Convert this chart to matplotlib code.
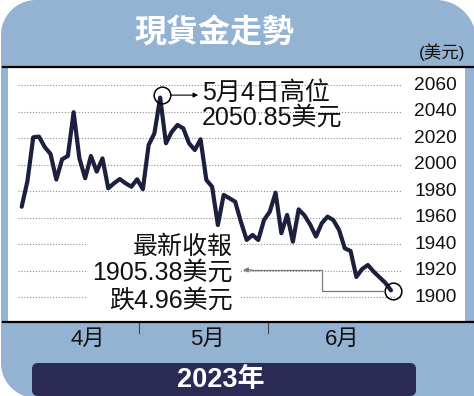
import numpy as np
import matplotlib
matplotlib.use("Agg")
import matplotlib.pyplot as plt
from matplotlib.transforms import Affine2D, offset_copy
from matplotlib.patches import FancyBboxPatch, Polygon, Rectangle
from matplotlib.lines import Line2D

# ---------------- data ----------------
prices = [1968.5, 1988.0, 2020.9, 2021.4, 2013.5, 2008.3, 1989.0, 2004.3, 2006.8, 2039.8,
          2005.0, 1990.0, 2006.8, 1995.0, 2005.0, 1982.4, 1986.2, 1989.4, 1986.2, 1983.6,
          1989.2, 1981.7, 2015.1, 2023.9, 2050.85, 2016.4, 2025.0, 2030.2, 2027.7, 2016.4,
          2011.3, 2019.4, 1988.7, 1983.6, 1954.7, 1977.4, 1974.9, 1972.3, 1957.0, 1943.4,
          1947.2, 1943.4, 1958.5, 1964.8, 1979.1, 1948.5, 1962.3, 1942.1, 1966.5, 1962.0,
          1955.0, 1946.0, 1956.0, 1961.0, 1958.5, 1951.0, 1937.1, 1935.1, 1915.5, 1921.5,
          1924.5, 1919.5, 1915.3, 1911.2, 1905.38]
yticks = [1900, 1920, 1940, 1960, 1980, 2000, 2020, 2040, 2060]
month_labels = ["4月", "5月", "6月"]
month_label_pos = [11.5, 32.1, 55.5]      # trading-day index of label centre
month_boundaries = [20.33, 42.68]          # trading-day index of month change

title = "現貨金走勢"
unit = "(美元)"
peak_txt = ["5月4日高位", "2050.85美元"]
last_txt = ["最新收報", "1905.38美元", "跌4.96美元"]
year_txt = "2023年"

# ---------------- style ----------------
W, H = 474, 396
BLUE = "#94b3d3"
NAVY = "#1c1f3e"
BANNER = "#2b2a55"
FAM = ["Liberation Sans", "Noto Sans CJK TC"]

fig = plt.figure(figsize=(W / 100, H / 100), dpi=100)
fig.patch.set_facecolor("white")
T = Affine2D().scale(1 / W, -1 / H).translate(0, 1) + fig.transFigure  # pixel coords, y down

# rounded blue panel
def arc(cx, cy, r, a0, a1, n=30):
    a = np.radians(np.linspace(a0, a1, n))
    return np.column_stack([cx + r * np.cos(a), cy + r * np.sin(a)])

r1, r2, r3 = 35, 40, 35
L, R, TOP, BOT = 1, 476, 0, 398
pts = np.vstack([
    arc(L + r1, TOP + r1, r1, 180, 270),        # top-left (y down)
    arc(R - r2, TOP + r2, r2, 270, 360),        # top-right
    [[R, BOT]],                                 # bottom-right square
    arc(L + r3, BOT - r3, r3, 90, 180),         # bottom-left
])
fig.add_artist(Polygon(pts, closed=True, transform=T, facecolor=BLUE,
                       edgecolor="none", zorder=-5))

# bottom banner
fig.add_artist(FancyBboxPatch((32, 363), 384, 33, boxstyle="round,pad=0,rounding_size=6",
                              transform=T, facecolor=BANNER, edgecolor="none", zorder=-4))

# ---------------- data axes ----------------
ax = fig.add_axes([8 / W, 1 - 322 / H, 457 / W, 254 / H])
ax.set_facecolor("white")
ax.set_xlim(-2.374, 76.83)
ax.set_ylim(1881.5, 2073.2)
for s in ax.spines.values():
    s.set_visible(False)
ax.set_xticks([])
ax.set_yticks([])

x = np.arange(len(prices))
ax.hlines(yticks, -0.64, 65.9, colors="#8c8c8c", linestyles=(0, (1, 1.6)),
          linewidth=0.8, zorder=1)

ytr = ax.get_yaxis_transform()
for v in yticks:
    ax.text(449 / 457, v, str(v), transform=ytr, ha="right", va="center",
            fontsize=13.8, family=FAM, color="#111111")

# white box behind latest-close text
ax.add_patch(Rectangle((88, 231), 152, 86, transform=T, facecolor="white",
                       edgecolor="none", zorder=2, clip_on=False))

ax.plot(x, prices, color=NAVY, lw=3.0, solid_joinstyle="round", solid_capstyle="round", zorder=3)

# peak marker + arrow
pk = int(np.argmax(prices))
ax.plot([pk], [prices[pk]], marker="o", ms=12, mfc="none", mec="black", mew=1.1,
        transform=offset_copy(ax.transData, fig=fig, x=2, y=2.5, units="dots"), zorder=4)
ax.annotate("", xy=(pk, prices[pk]),
            xycoords=offset_copy(ax.transData, fig=fig, x=38, y=2.5, units="dots"),
            xytext=(pk, prices[pk]),
            textcoords=offset_copy(ax.transData, fig=fig, x=11, y=2.5, units="dots"),
            arrowprops=dict(arrowstyle="-|>", lw=0.8, color="black", mutation_scale=7,
                            shrinkA=0, shrinkB=0), zorder=4)

# last marker + elbow arrow
li = len(prices) - 1
ax.plot([li], [prices[li]], marker="o", ms=12, mfc="none", mec="black", mew=1.1,
        transform=offset_copy(ax.transData, fig=fig, x=2, y=-0.6, units="dots"), zorder=4)
lx, ly = ax.transData.transform((li, prices[li]))
GRAY = "#7a7a7a"
ax.add_line(Line2D([lx - 7, lx - 69, lx - 69, lx - 140], [ly - 0.6, ly - 0.6, ly + 20.4, ly + 20.4],
                   transform=None, color=GRAY, lw=0.9, zorder=4, clip_on=False))
ax.annotate("", xy=(lx - 148, ly + 20.4), xycoords="figure pixels",
            xytext=(lx - 139, ly + 20.4), textcoords="figure pixels",
            arrowprops=dict(arrowstyle="-|>", lw=0.9, color=GRAY, mutation_scale=7,
                            shrinkA=0, shrinkB=0), zorder=4)

# month ticks and labels
xtr = ax.get_xaxis_transform()
for b in month_boundaries:
    ax.plot([b, b], [0, -11 / 254], transform=xtr, color="#444444", lw=0.8, clip_on=False)
for p, lab in zip(month_label_pos, month_labels):
    ax.text(p, -17 / 254, lab, transform=xtr, ha="center", va="center", fontsize=16,
            family=FAM, color="#111111", clip_on=False)

# black rules
for yy in (67, 322):
    fig.add_artist(Line2D([3, 474], [yy, yy], transform=T, color="black", lw=1.6, zorder=5))

# ---------------- texts ----------------
fig.text(215, 34, title, transform=T, ha="center", va="center", fontsize=23,
         fontweight="bold", color="white", family="Noto Sans CJK TC")
fig.text(465, 52, unit, transform=T, ha="right", va="center", fontsize=12.5,
         family=FAM, color="#111111")
for t, yy in zip(peak_txt, (93, 118)):
    fig.text(202, yy, t, transform=T, ha="left", va="center", fontsize=18,
             family=FAM, color="#111111", zorder=6)
for t, yy in zip(last_txt, (247, 273, 301)):
    fig.text(233, yy, t, transform=T, ha="right", va="center", fontsize=18,
             family=FAM, color="#111111", zorder=6)
fig.text(221, 380, year_txt, transform=T, ha="center", va="center", fontsize=19.5,
         fontweight="bold", color="white", family=FAM)

fig.savefig("out.png", dpi=100, facecolor="white")
